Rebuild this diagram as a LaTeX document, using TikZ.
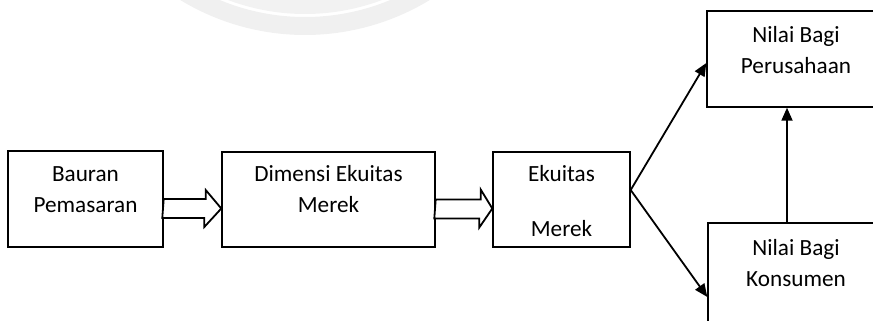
\documentclass[tikz,border=0pt]{standalone}
\usepackage{fontspec}
\setmainfont{Carlito}
\usetikzlibrary{arrows.meta,calc}
\tikzset{
  box/.style={draw,line width=1.4pt,inner sep=0pt},
  txt/.style={align=center,inner sep=0pt,font=\fontsize{23.2}{31}\selectfont},
  hollow/.style={draw,line width=1.8pt,fill=white,line join=miter},
  link/.style={line width=1.8pt,-{Triangle[length=13pt,width=11pt]}}
}
\begin{document}
\begin{tikzpicture}[x=1pt,y=-1pt]
\useasboundingbox (0,0) rectangle (873,321);
\clip (0,0) rectangle (873,321);
% watermark
\draw[gray!12,line width=18pt] (305,-205) ++(58:231) arc[start angle=58,end angle=122,radius=231];
\draw[gray!10,line width=14pt] (305,-205) ++(62:212) arc[start angle=62,end angle=118,radius=212];
% boxes
\node[box,minimum width=155pt,minimum height=96pt] (bauran) at (85.5,199) {};
\node[box,minimum width=213pt,minimum height=95pt] (dimensi) at (328.5,199.5) {};
\node[box,minimum width=137pt,minimum height=95pt] (ekuitas) at (561.5,199.5) {};
\node[box,minimum width=178pt,minimum height=96pt] (nilaiP) at (796,59) {};
\node[box,minimum width=177pt,minimum height=120pt] (nilaiK) at (796.5,283) {};
% texts
\node[txt] (bauranT) at (85.5,190) {Bauran\\Pemasaran};
\node[txt] (dimensiT) at (328.5,189.5) {Dimensi Ekuitas\\Merek};
\node[txt] (ekuitasT) at (561.5,201.5) {Ekuitas\\[24pt]Merek};
\node[txt] (nilaiPT) at (796,50.5) {Nilai Bagi\\Perusahaan};
\node[txt] (nilaiKT) at (796,263.5) {Nilai Bagi\\Konsumen};
% hollow arrows
\draw[hollow] (bauran.east) -- ++(42,0) -- ++(0,-9) -- ($(dimensi.west)+(0,9)$)
  -- ++(-17,18.5) -- ++(0,-9) -- ++(-42,0) -- cycle;
\draw[hollow] (dimensi.east) -- ++(45,0) -- ++(0,-10) -- ($(ekuitas.west)+(0,9)$)
  -- ++(-13,19) -- ++(0,-9) -- ++(-45,0) -- cycle;
% links
\draw[link] ([yshift=9.5pt]ekuitas.east) -- ([yshift=-4pt]nilaiP.west);
\draw[link] ([yshift=9.5pt]ekuitas.east) -- ([yshift=-14pt]nilaiK.west);
\draw[link] ([xshift=-9.5pt]nilaiK.north) -- ([xshift=-9pt]nilaiP.south);
\end{tikzpicture}
\end{document}
